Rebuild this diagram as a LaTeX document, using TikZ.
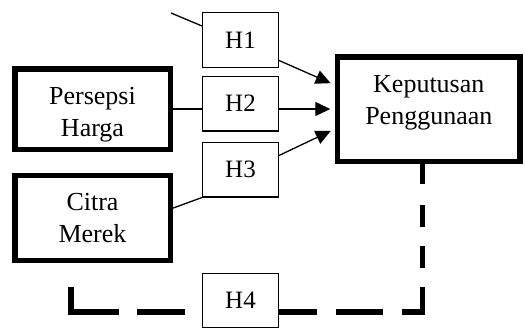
\documentclass[tikz,border=0pt]{standalone}
\usepackage{fontspec}
\setmainfont{Liberation Serif}
\usetikzlibrary{positioning,arrows.meta}

\begin{document}
\begin{tikzpicture}[x=1pt,y=-1pt,
		var/.style={draw,line width=5.5pt,minimum width=155.5pt,align=center,font=\fontsize{26}{32}\selectfont},
		hyp/.style={draw,line width=1.3pt,minimum width=75.7pt,minimum height=54.7pt,font=\fontsize{25}{30}\selectfont},
		link/.style={line width=1.3pt},
		arr/.style={link,-{Triangle[length=15pt,width=14pt]},shorten >=4.5pt},
		moddash/.style={line width=5.5pt,line join=miter}]
		\useasboundingbox (0,0) rectangle (525,327);

		\node[var,minimum height=80.5pt,text height=60.2pt] (persepsi) at (92.5,109) {Persepsi\\Harga};
		\node[var,minimum height=85pt] (citra) at (92.5,218) {Citra\\Merek};
		\node[var,minimum width=182.5pt,minimum height=104.5pt,text depth=18.9pt] (keputusan) at (428.8,109) {Keputusan\\Penggunaan};

		\node[hyp] (h1) at (240.5,40) {H1};
		\node[hyp] (h2) at (240.5,103.5) {H2};
		\node[hyp] (h3) at (240.5,169.5) {H3};
		\node[hyp] (h4) at (240.5,300.5) {H4};

		\coordinate (h1from) at (171,13);
		\coordinate (h4corner) at (422.5,312);
		\coordinate (h4low) at (71,312);
		\coordinate (h4end) at (71,287);

		\draw[link] (h1from) -- (h1.160);
		\draw[arr] (h1.-28) -- ([yshift=24pt]keputusan.west);

		\draw[link] (persepsi.east) -- (persepsi.east -| h2.west);
		\draw[arr] (h2.east |- keputusan.west) -- (keputusan.west);

		\draw[link] (citra.7) -- (h3.south west);
		\draw[arr] (h3.20) -- ([yshift=-20pt]keputusan.west);

		% moderasi H4
		\draw[moddash,dash pattern=on 20pt off 21pt on 22pt off 19pt on 22pt off 19pt on 46pt off 19pt on 47pt off 19pt on 40pt off 20pt]
			(keputusan.south -| h4corner) -- (h4corner) -- (h4.east |- h4corner);
		\draw[moddash,dash pattern=on 73pt off 18pt on 48pt off 30pt]
			(h4end) -- (h4low) -- (h4.west |- h4low);
	\end{tikzpicture}
\end{document}
